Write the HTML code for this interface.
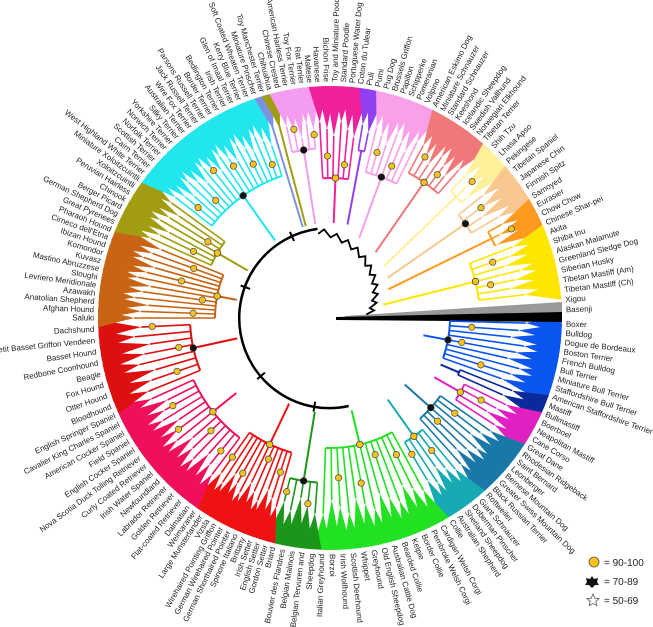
<!DOCTYPE html>
<html><head><meta charset="utf-8"><style>
html,body{margin:0;padding:0;background:#fff;width:653px;height:627px;overflow:hidden}
svg{display:block}
text{font-family:"Liberation Sans",Arial,sans-serif;fill:#222}
</style></head><body>
<svg id="s" width="653" height="627" viewBox="0 0 653 627" xmlns="http://www.w3.org/2000/svg">
<g id="g"></g>
<circle cx="594" cy="562" r="5" fill="#f7c21a" stroke="#555" stroke-width="0.8"/>
<text x="604" y="566" font-size="10">= 90-100</text>
<polygon points="592,576 594,579 598,578 597,582 599,585 595,585 592,588 589,585 585,585 587,582 586,578 590,579" fill="#111"/>
<text x="604" y="585" font-size="10">= 70-89</text>
<polygon points="593,594 594.8,598.2 599,598.6 595.8,601.4 596.8,605.6 593,603.4 589.2,605.6 590.2,601.4 587,598.6 591.2,598.2" fill="#fff" stroke="#555" stroke-width="0.8"/>
<text x="604" y="604" font-size="10">= 50-69</text>
</svg>
<script>
const CX=330,CY=318,R=232,RL=236;
function P(r,a){a*=Math.PI/180;return [CX+r*Math.cos(a),CY+r*Math.sin(a)];}
const groups=[
["#0a55f0",120,95,["Boxer","Bulldog","Dogue de Bordeaux","Boston Terrier","French Bulldog","Bull Terrier","Miniature Bull Terrier","Staffordshire Bull Terrier","American Staffordshire Terrier"]],
["#0b2a9a",140,120,["Mastiff","Bullmastiff"]],
["#e020c0",150,120,["Boerboel","Neapolitan Mastiff","Cane Corso","Great Dane"]],
["#1a78a8",135,100,["Rhodesian Ridgeback","Saint Bernard","Leonberger","Bernese Mountain Dog","Greater Swiss Mountain Dog","Black Russian Terrier","Rottweiler"]],
["#18aab2",145,100,["Giant Schnauzer","Doberman Pinscher","Shetland Sheepdog","Australian Shepherd","Collie"]],
["#22e022",130,95,["Cardigan Welsh Corgi","Pembroke Welsh Corgi","Border Collie","Kelpie","Bearded Collie","Australian Cattle Dog","Old English Sheepdog","Greyhound","Whippet","Scottish Deerhound","Irish Wolfhound","Borzoi","Italian Greyhound"]],
["#1b961b",165,95,["Sheepdog","Belgian Tervuren and","Belgian Malinois","Bouvier des Flandres","Briard"]],
["#ee1212",140,95,["Gordon Setter","English Setter","Irish Setter","Brittany","Spinone Italiano","German Shorthaired Pointer","German Wirehaired Pointer","Wirehaired Pointing Griffon","Vizsla","Large Munsterlander","Weimaraner"]],
["#f0105a",150,120,["Dalmatian","Flat-coated Retriever","Golden Retriever","Labrador Retriever","Newfoundland","Irish Water Spaniel","Curly Coated Retriever","Nova Scotia Duck Tolling Retriever","English Cocker Spaniel","Field Spaniel","American Cocker Spaniel","Cavalier King Charles Spaniel","English Springer Spaniel"]],
["#dd1010",140,95,["Bloodhound","Otter Hound","Fox Hound","Beagle","Redbone Coonhound","Basset Hound","Petit Basset Griffon Vendeen","Dachshund"]],
["#c86414",115,95,["Saluki","Afghan Hound","Anatolian Shepherd","Azawakh","Levriero Meridionale","Sloughi","Mastino Abruzzese","Kuvasz","Komondor","Ibizan Hound","Cirneco dell'Etna","Pharaoh Hound"]],
["#a29c10",130,95,["Great Pyrenees","German Shepherd Dog","Berger Picard","Chinook","Peruvian Hairless","Xoloitzcuintli","Miniature Xoloitzcuintli"]],
["#22e6ee",150,95,["West Highland White Terrier","Cairn Terrier","Scottish Terrier","Norfolk Terrier","Norwich Terrier","Yorkshire Terrier","Silky Terrier","Australian Terrier","Wire Fox Terrier","Jack Russell Terrier","Parsons Russell Terrier","Border Terrier","Bedlington Terrier","Irish Terrier","Glen of Imaal Terrier","Kerry Blue Terrier","Soft Coated Wheaten Terrier","Miniature Pinscher"]],
["#8090e0",200,95,["Toy Manchester Terrier"]],
["#a29c10",200,95,["Chihuahua"]],
["#f49cf0",170,95,["Chinese Crested","American Hairless Terrier","Toy Fox Terrier","Rat Terrier","Maltese"]],
["#f0209a",140,95,["Havanese","Bichon Frise","Toy and Miniature Poodle","Standard Poodle","Portuguese Water Dog","Coton du Tulear"]],
["#9040f0",170,95,["Puli","Pumi"]],
["#f8a0e8",150,85,["Pug Dog","Brussels Griffon","Papillon","Schipperke","Pomeranian","Volpino","American Eskimo Dog"]],
["#f07878",165,80,["Miniature Schnauzer","Standard Schnauzer","Keeshond","Icelandic Sheepdog","Swedish Vallhund","Norwegian Elkhound","Tibetan Terrier"]],
["#fff09a",175,75,["Shih Tzu","Lhasa Apso","Pekingese"]],
["#f8c890",165,70,["Tibetan Spaniel","Japanese Chin","Finnish Spitz","Samoyed"]],
["#ff9a20",180,65,["Eurasier","Chow Chow","Chinese Shar-pei"]],
["#ffe600",150,55,["Akita","Shiba Inu","Alaskan Malamute","Greenland Sledge Dog","Siberian Husky","Tibetan Mastiff (Am)","Tibetan Mastiff (Ch)"]],
["#999999",200,40,["Xigou"]],
["#000000",200,10,["Basenji"]]
];
const anchors={"Boxer":1.5,"Great Dane":33,"Collie":59,"Italian Greyhound":92,"Briard":104,"Dalmatian":127,"Bloodhound":158,"Saluki":180,"Miniature Xoloitzcuintli":216,"Havanese":267,"Tibetan Terrier":311,"Samoyed":329,"Basenji":358};
let all=[];groups.forEach((g,gi)=>g[3].forEach(n=>all.push({n,gi})));
let ai=[];all.forEach((o,i)=>{if(anchors[o.n]!==undefined)ai.push([i,anchors[o.n]]);});
for(let k=0;k<ai.length-1;k++){const [i0,a0]=ai[k],[i1,a1]=ai[k+1];for(let i=i0;i<=i1;i++)all[i].a=a0+(a1-a0)*(i-i0)/(i1-i0);}
let f=x=>x.toFixed(1);
function arc(r,a0,a1,col,w){if(a1-a0<0.01)return '';const p=P(r,a0),q=P(r,a1);return `<path d="M${f(p[0])},${f(p[1])} A${r},${r} 0 ${a1-a0>180?1:0} 1 ${f(q[0])},${f(q[1])}" fill="none" stroke="${col}" stroke-width="${w}"/>`;}
function line(r0,r1,a,col,w){const p=P(r0,a),q=P(r1,a);return `<line x1="${f(p[0])}" y1="${f(p[1])}" x2="${f(q[0])}" y2="${f(q[1])}" stroke="${col}" stroke-width="${w}"/>`;}
let wedges='',lines='',labels='',marks='';
groups.forEach((g,gi)=>{
 const items=all.filter(o=>o.gi===gi);const a0=items[0].a,a1=items[items.length-1].a;const mid=(a0+a1)/2;
 const col=g[0];
 if(gi<groups.length-2){
 lines+=arc(g[1],a0,a1,col,2)+line(g[2],g[1],mid,col,2);
 items.forEach((o,k)=>{
  const ra=196-(k%3)*7;
  const b1=P(R,o.a-2.3),b2=P(R,o.a+2.3),ap=P(ra,o.a);
  wedges+=`<polygon points="${f(ap[0])},${f(ap[1])} ${f(b1[0])},${f(b1[1])} ${f(b2[0])},${f(b2[1])}" fill="${col}"/>`;
  lines+=line(g[1],ra,o.a,col,1.6);
  if(k%3===1&&items.length>2){const m=P(g[1]+14+(k%4)*8,o.a);marks+=`<circle cx="${f(m[0])}" cy="${f(m[1])}" r="3.2" fill="#f7c21a" stroke="#444" stroke-width="0.7"/>`;}
 });
 if(items.length>3){const m=P(g[1],mid);marks+=`<circle cx="${f(m[0])}" cy="${f(m[1])}" r="3.3" fill="${gi%3==0?'#111':'#f7c21a'}" stroke="#333" stroke-width="0.7"/>`;}
 }
 items.forEach(o=>{
  const p=P(RL,o.a);let rot=o.a,anc='start';
  if(o.a>90&&o.a<270){rot=o.a+180;anc='end';}
  labels+=`<text x="${f(p[0])}" y="${f(p[1])}" font-size="8" text-anchor="${anc}" dominant-baseline="central" transform="rotate(${f(rot)} ${f(p[0])} ${f(p[1])})">${o.n}</text>`;
 });
});
let grey=`<polygon points="345,316 562,302 562,314 345,318" fill="#999"/>`;
let spike=`<polygon points="336,317 562,312 562,322 336,320" fill="#000"/>`;
let inner=arc(90,78,262,'#000',2.5)+line(85,95,100,'#000',2)+line(85,95,140,'#000',2)+line(85,95,200,'#000',2)+line(85,95,245,'#000',2);
const pts=[];for(let i=0;i<=22;i++){const a=262+i*4.2;const r=85-i*2.2+(i%2?6:0);const p=P(r,a);pts.push(f(p[0])+','+f(p[1]));}
let zz=`<polyline points="${pts.join(' ')}" fill="none" stroke="#000" stroke-width="1.8"/>`;
document.getElementById('g').innerHTML=wedges+grey+spike+lines+inner+zz+marks+labels;
</script>
</body></html>
